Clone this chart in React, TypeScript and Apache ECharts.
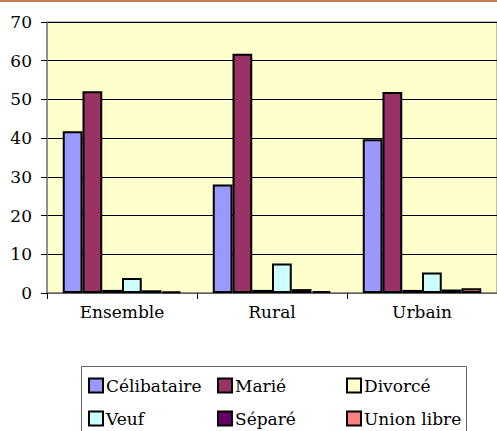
import React, { useEffect, useRef } from "react";
import * as echarts from "echarts";

const categories = ["Ensemble", "Rural", "Urbain"];
const seriesNames = ["Célibataire", "Marié", "Divorcé", "Veuf", "Séparé", "Union libre"];
const celibataire = [41.8, 28.0, 39.7];
const marie = [52.1, 61.8, 51.9];
const divorce = [0.8, 0.8, 0.8];
const veuf = [3.9, 7.6, 5.3];
const separe = [0.7, 1.0, 0.9];
const unionLibre = [0.4, 0.5, 1.2];
const seriesValues = [celibataire, marie, divorce, veuf, separe, unionLibre];
const colors = ["#9999FF", "#993366", "#FFFFCC", "#CCFFFF", "#660066", "#FF8080"];
const yTicks = { min: 0, max: 70, interval: 10 };

const FONT = "DejaVu Serif";
const FS = 17;

export default function App() {
  const ref = useRef<HTMLDivElement>(null);
  useEffect(() => {
    document.body.style.margin = "0";
    if (!ref.current) return;
    const chart = echarts.init(ref.current, undefined, { renderer: "svg" });
    const colLeft = [88, 217, 346];
    const rowTop = [377, 410];
    const legends = seriesNames.map((name, i) => ({
      left: colLeft[i % 3],
      top: rowTop[Math.floor(i / 3)],
      padding: 0,
      itemWidth: 14,
      itemHeight: 14,
      itemGap: 4,
      icon: "rect",
      data: [name],
      selectedMode: false,
      textStyle: { fontFamily: FONT, fontSize: FS, color: "#000", padding: [0, 0, 0, -2] },
    }));
    chart.setOption({
      animation: false,
      backgroundColor: "#fff",
      textStyle: { fontFamily: FONT },
      grid: {
        left: 47,
        top: 22,
        right: -4,
        bottom: 138,
        show: true,
        backgroundColor: "#FFFFCC",
        borderColor: "#808080",
        borderWidth: 1,
      },
      xAxis: {
        type: "category",
        data: categories,
        axisLine: { show: true, lineStyle: { color: "#808080", width: 1.5 } },
        axisTick: { show: true, length: 6, lineStyle: { color: "#000" } },
        axisLabel: { fontFamily: FONT, fontSize: FS, color: "#000", margin: 10 },
        splitLine: { show: false },
      },
      yAxis: {
        type: "value",
        min: yTicks.min,
        max: yTicks.max,
        interval: yTicks.interval,
        axisLine: { show: true, lineStyle: { color: "#808080", width: 1.5 } },
        axisTick: { show: true, length: 6, lineStyle: { color: "#000" } },
        axisLabel: { fontFamily: FONT, fontSize: FS, color: "#000", margin: 15 },
        splitLine: { show: true, lineStyle: { color: "#000", width: 1 } },
      },
      legend: legends,
      graphic: [
        {
          type: "rect",
          shape: { x: 0, y: 0, width: 497, height: 2 },
          style: { fill: "#C77B59" },
        },
        {
          type: "rect",
          shape: { x: 81.5, y: 366.5, width: 385, height: 80 },
          style: { fill: "#fff", stroke: "#666", lineWidth: 1 },
          z: -1,
        },
      ],
      series: seriesNames.map((name, i) => ({
        name,
        type: "bar",
        data: seriesValues[i],
        barGap: "0%",
        barCategoryGap: "21%",
        itemStyle: { color: colors[i], borderColor: "#000", borderWidth: 2 },
      })),
    });
    return () => chart.dispose();
  }, []);
  return <div ref={ref} style={{ width: 497, height: 431 }} />;
}
